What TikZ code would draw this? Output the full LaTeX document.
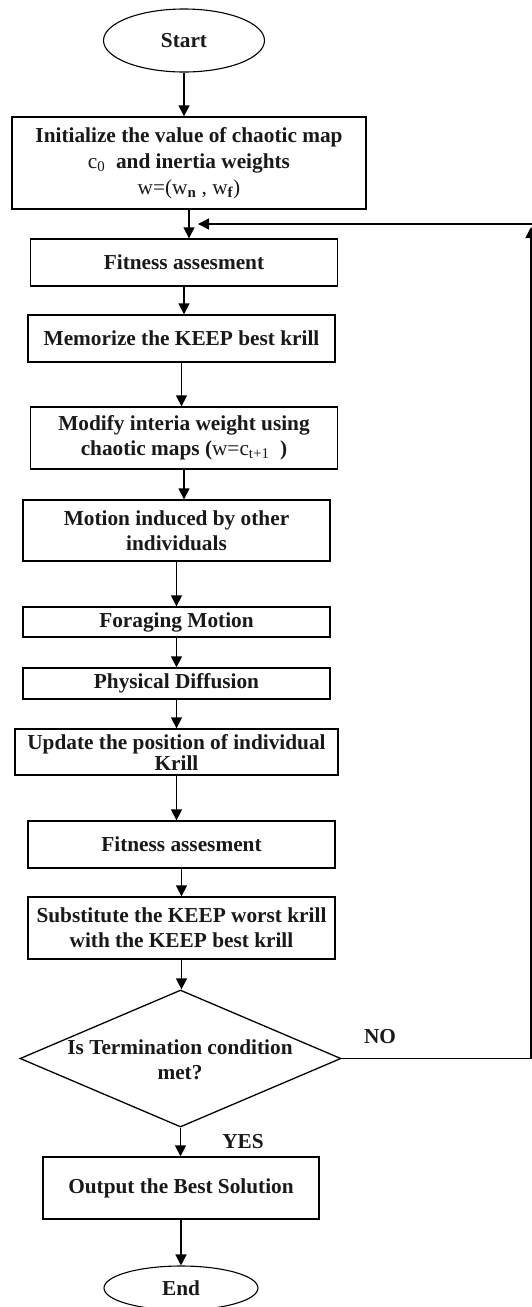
\documentclass[tikz,border=0pt]{standalone}
\usepackage{fontspec}
\setmainfont{Liberation Serif}
\usetikzlibrary{shapes.geometric,arrows.meta}
\begin{document}
\begin{tikzpicture}[x=1pt,y=-1pt,
  line width=1.3pt,
  txt/.style={font=\fontsize{21.3}{25}\selectfont\bfseries, text=black!90},
  box/.style={txt, draw, rectangle, inner sep=0pt, align=center},
  term/.style={txt, draw, ellipse, inner sep=0pt, line width=1.1pt},
  arr/.style={-{Triangle[length=11pt,width=11pt]}},
]
\useasboundingbox (0,0) rectangle (532,1307);

\node[term, minimum width=161pt, minimum height=63pt] (start) at (184,40.5) {Start};
\node[box, minimum width=354pt, minimum height=92pt] (init) at (189,163)
  {Initialize the value of chaotic map\\[1pt] {\mdseries c\textsubscript{0}}\ \ and inertia weights\\[1pt] {\mdseries w=(w\textsubscript{\bfseries n} , w\textsubscript{\bfseries f})}};
\node[box, minimum width=307.5pt, minimum height=47pt] (fit1) at (184,262.5) {Fitness assesment};
\node[box, minimum width=307pt, minimum height=47pt] (mem) at (181.5,338.5) {Memorize the KEEP best krill};
\node[box, minimum width=307.5pt, minimum height=62pt] (mod) at (184,438)
  {Modify interia weight using\\ chaotic maps ({\mdseries w=c\textsubscript{t+1}}\ \ )};
\node[box, minimum width=307pt, minimum height=61pt] (motion) at (176.5,530.5)
  {Motion induced by other\\ individuals};
\node[box, minimum width=307pt, minimum height=30pt] (forage) at (176.5,622) {Foraging Motion};
\node[box, minimum width=307pt, minimum height=31pt] (phys) at (176.5,683.5) {Physical Diffusion};
\node[box, minimum width=323pt, minimum height=46pt] (update) at (176.5,752)
  {Update the position of individual\\[-4pt] Krill};
\node[box, minimum width=307pt, minimum height=47pt] (fit2) at (181.5,844.5) {Fitness assesment};
\node[box, minimum width=307pt, minimum height=62pt] (subst) at (181.5,928)
  {Substitute the KEEP worst krill\\ with the KEEP best krill};
\node[draw, diamond, minimum width=321pt, minimum height=137pt, inner sep=0pt] (dia) at (180.5,1058.5) {};
\node[txt, align=center] (diatext) at (180,1060) {Is Termination condition\\ met?};
\node[box, minimum width=276pt, minimum height=62pt] (out) at (181,1188) {Output the Best Solution};
\node[term, minimum width=154pt, minimum height=44pt] (end) at (181,1288) {End};

\node[txt] (no) at (380,1037) {NO};
\node[txt] (yes) at (243,1142) {YES};

\draw[arr] (start.south) -- (start.south |- init.north);
\draw[arr] (init.south) -- (init.south |- fit1.north);
\draw[arr] (fit1.south) -- (fit1.south |- mem.north);
\draw[arr] (mem.south) -- (mem.south |- mod.north);
\draw[arr] (mod.south) -- (mod.south |- motion.north);
\draw[arr] (motion.south) -- (motion.south |- forage.north);
\draw[arr] (forage.south) -- (forage.south |- phys.north);
\draw[arr] (phys.south) -- (phys.south |- update.north);
\draw[arr] (update.south) -- (update.south |- fit2.north);
\draw[arr] (fit2.south) -- (fit2.south |- subst.north);
\draw[arr] (subst.south) -- (subst.south |- dia.north);
\draw[arr] (dia.south) -- (dia.south |- out.north);
\draw[arr] (out.south) -- (out.south |- end.north);

\coordinate (fbtop) at (531,227);
\coordinate (fbin) at (198,224);
\coordinate (fbright) at (545,224);
\draw[arr] (dia.east) -- (dia.east -| fbtop) -- (fbtop);
\draw[arr] (fbright) -- (fbin);
\end{tikzpicture}
\end{document}
